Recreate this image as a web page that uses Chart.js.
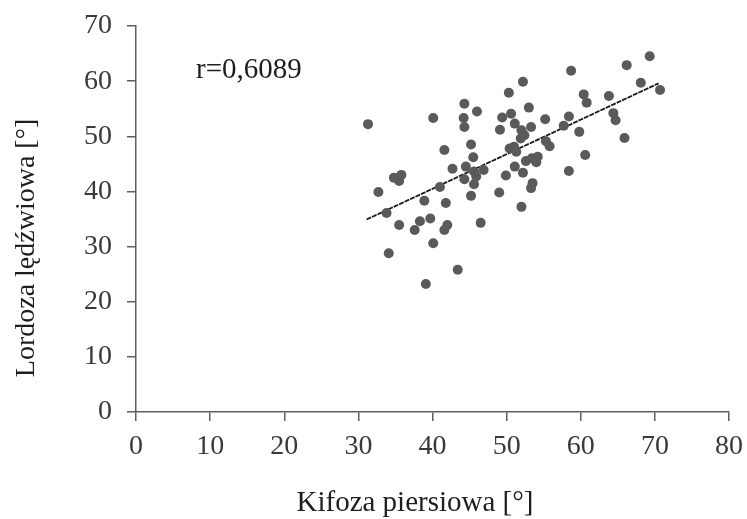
<!DOCTYPE html>
<html lang="pl">
<head>
<meta charset="utf-8">
<title>Kifoza piersiowa a lordoza lędźwiowa</title>
<script src="https://cdn.jsdelivr.net/npm/chart.js@4.4.1/dist/chart.umd.min.js"></script>
<style>
  html, body { margin: 0; padding: 0; background: #fff; }
  #wrap { width: 747px; height: 519px; position: relative; }
</style>
</head>
<body>
<div id="wrap"><canvas id="chart"></canvas></div>
<script>
// values
const kifoza = [
  31.3, 40.1, 44.3, 44.2, 44.3, 46.0, 50.3, 52.2, 49.4, 50.6,
  53.0, 49.1, 51.1, 52.0, 53.3, 52.4, 51.9, 45.2, 41.6, 45.5,
  50.4, 51.0, 51.3, 42.7, 44.5, 45.6, 45.9, 45.6, 46.9, 44.3,
  34.8, 35.8, 35.5, 32.7, 41.0, 33.8, 38.9, 41.8, 45.2, 49.0,
  49.9, 51.1, 52.2, 52.6, 53.4, 54.2, 54.0, 53.5, 53.3, 52.0,
  35.5, 38.3, 39.7, 37.6, 42.0, 41.6, 46.5, 40.1, 34.1, 43.4,
  39.1, 60.4, 60.8, 55.2, 58.4, 57.7, 59.8, 55.3, 55.8, 60.6,
  58.4, 69.3, 66.2, 58.7, 68.1, 70.7, 63.8, 64.4, 64.7, 65.9
];
const lordoza = [
  52.2, 53.3, 55.9, 53.3, 51.7, 54.5, 57.9, 59.9, 53.4, 54.1,
  55.2, 51.2, 52.3, 51.1, 51.7, 50.2, 49.6, 48.5, 47.5, 46.2,
  47.8, 48.1, 47.2, 44.1, 44.5, 43.6, 42.7, 41.3, 43.9, 42.2,
  42.5, 43.0, 41.9, 39.9, 40.8, 36.1, 38.3, 37.9, 39.2, 39.8,
  42.9, 44.5, 43.4, 45.5, 46.0, 46.3, 45.3, 41.5, 40.6, 37.2,
  33.9, 34.6, 35.1, 33.0, 33.9, 33.0, 34.3, 30.6, 28.8, 25.8,
  23.2, 57.6, 56.1, 53.1, 53.6, 51.9, 50.8, 49.1, 48.2, 46.6,
  43.7, 64.5, 62.9, 61.9, 59.7, 58.4, 57.3, 54.2, 52.9, 49.7
];
// trend line ends
const trendX = [31.1, 70.5];
const trendY = [34.9, 59.6];

const xTicks = [0, 10, 20, 30, 40, 50, 60, 70, 80];
const yTicks = [0, 10, 20, 30, 40, 50, 60, 70];
const xTitle = 'Kifoza piersiowa [°]';
const yTitle = 'Lordoza lędźwiowa [°]';
const rLabel = 'r=0,6089';

const FAMILY = '"Liberation Serif", "Times New Roman", serif';
const AXIS_COLOR = '#5f5f5f';

const points = kifoza.map((x, i) => ({ x: x, y: lordoza[i] }));
const trend = trendX.map((x, i) => ({ x: x, y: trendY[i] }));

// axis titles and the r value, placed by hand like in the original figure
const textPlugin = {
  id: 'texts',
  afterDraw(chart) {
    const ctx = chart.ctx;
    ctx.save();
    ctx.fillStyle = '#1e1e1e';
    ctx.textBaseline = 'alphabetic';

    ctx.textAlign = 'center';
    ctx.font = '29px ' + FAMILY;
    ctx.fillText(xTitle, 415, 511);

    ctx.save();
    ctx.font = '28px ' + FAMILY;
    ctx.translate(34, 248);
    ctx.rotate(-Math.PI / 2);
    ctx.fillText(yTitle, 0, 0);
    ctx.restore();

    ctx.textAlign = 'left';
    ctx.font = '29px ' + FAMILY;
    ctx.fillText(rLabel, 196, 78);
    ctx.restore();
  }
};

new Chart(document.getElementById('chart'), {
  type: 'scatter',
  data: {
    datasets: [
      {
        data: points,
        backgroundColor: '#5a5a5a',
        borderWidth: 0,
        pointRadius: 5,
        pointHoverRadius: 5
      },
      {
        type: 'line',
        data: trend,
        borderColor: '#1a1a1a',
        borderWidth: 1.8,
        borderDash: [5, 1],
        pointRadius: 0,
        fill: false
      }
    ]
  },
  options: {
    responsive: true,
    maintainAspectRatio: false,
    animation: false,
    layout: { padding: { top: 26, right: 18, left: 0, bottom: 0 } },
    plugins: {
      legend: { display: false },
      tooltip: { enabled: false }
    },
    scales: {
      x: {
        type: 'linear',
        min: 0,
        max: 80,
        afterBuildTicks: s => { s.ticks = xTicks.map(v => ({ value: v })); },
        afterFit: s => { s.height = 107; s.paddingLeft = 0; s.paddingRight = 0; },
        ticks: {
          color: '#3a3a3a',
          padding: 9,
          maxRotation: 0,
          font: { family: FAMILY, size: 28 }
        },
        grid: { drawOnChartArea: false, tickLength: 9, color: AXIS_COLOR, lineWidth: 1.5 },
        border: { color: AXIS_COLOR, width: 1.5 }
      },
      y: {
        type: 'linear',
        min: 0,
        max: 70,
        afterBuildTicks: s => { s.ticks = yTicks.map(v => ({ value: v })); },
        afterFit: s => { s.width = 136; s.paddingTop = 0; s.paddingBottom = 0; },
        ticks: {
          color: '#3a3a3a',
          padding: 15,
          font: { family: FAMILY, size: 28 }
        },
        grid: { drawOnChartArea: false, tickLength: 9, color: AXIS_COLOR, lineWidth: 1.5 },
        border: { color: AXIS_COLOR, width: 1.5 }
      }
    }
  },
  plugins: [textPlugin]
});
</script>
</body>
</html>
